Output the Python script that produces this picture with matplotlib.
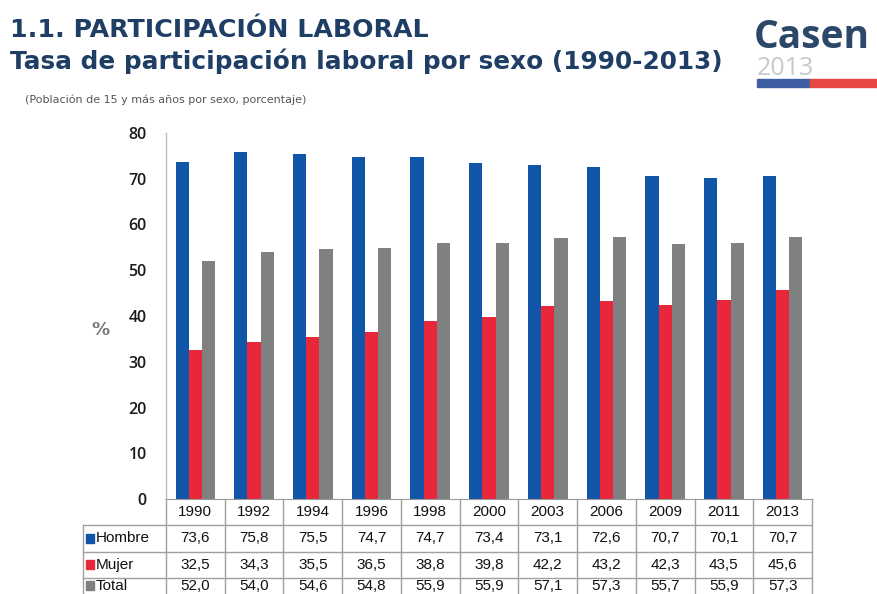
import matplotlib
matplotlib.use("Agg")
import matplotlib.pyplot as plt
import numpy as np
from matplotlib.lines import Line2D
from matplotlib.patches import Rectangle

years = ["1990", "1992", "1994", "1996", "1998", "2000", "2003", "2006", "2009", "2011", "2013"]
hombre = [73.6, 75.8, 75.5, 74.7, 74.7, 73.4, 73.1, 72.6, 70.7, 70.1, 70.7]
mujer = [32.5, 34.3, 35.5, 36.5, 38.8, 39.8, 42.2, 43.2, 42.3, 43.5, 45.6]
total = [52.0, 54.0, 54.6, 54.8, 55.9, 55.9, 57.1, 57.3, 55.7, 55.9, 57.3]
series_names = ["Hombre", "Mujer", "Total"]
series_colors = ["#1155A8", "#E8283A", "#808080"]
yticks = [0, 10, 20, 30, 40, 50, 60, 70, 80]

W, H = 877, 594
fig = plt.figure(figsize=(W / 100, H / 100), dpi=100)
fig.patch.set_facecolor("white")

def fx(px):
    return px / W

def fy(py):
    return 1 - py / H

ax_l, ax_r, ax_t, ax_b = 166, 812, 133, 499
ax = fig.add_axes([fx(ax_l), fy(ax_b), fx(ax_r - ax_l), (ax_b - ax_t) / H])
n = len(years)
x = np.arange(n)
bw = 0.225
for i, (vals, col) in enumerate(zip([hombre, mujer, total], series_colors)):
    ax.bar(x + (i - 1) * bw, vals, width=bw, color=col, zorder=2)
ax.set_xlim(-0.5, n - 0.5)
ax.set_ylim(0, 80)
ax.set_yticks(yticks)
ax.set_yticklabels([str(v) for v in yticks], fontsize=11.5, color="#1a1a1a",
                   family="Open Sans", fontweight="semibold")
ax.tick_params(axis="y", length=0, pad=14)
ax.tick_params(axis="x", length=0, labelbottom=False)
for s in ["top", "right"]:
    ax.spines[s].set_visible(False)
ax.spines["left"].set_color("#BBBBBB")
ax.spines["bottom"].set_color("#999999")
ax.spines["left"].set_linewidth(1.0)
ax.set_facecolor("white")

fig.text(fx(100), fy(330), "%", fontsize=13, color="#777777", fontweight="bold",
         ha="center", va="center")

# table
lc = "#A0A0A0"
col_w = (ax_r - ax_l) / n
row_edges = [499, 525, 552, 578, 605]
tf = fig.transFigure
def hline(x0, x1, y):
    fig.add_artist(Line2D([fx(x0), fx(x1)], [fy(y), fy(y)], color=lc, lw=1.0, transform=tf))
def vline(xp, y0, y1):
    fig.add_artist(Line2D([fx(xp), fx(xp)], [fy(y0), fy(y1)], color=lc, lw=1.0, transform=tf))

for y in row_edges[1:4]:
    hline(83, ax_r, y)
for j in range(n + 1):
    vline(ax_l + j * col_w, 499, 600)
vline(83, 525, 600)

tfont = "Liberation Sans"
for j, yr in enumerate(years):
    fig.text(fx(ax_l + (j + 0.5) * col_w), fy(512), yr, ha="center", va="center",
             fontsize=11, color="#111111", family=tfont)
for r, (name, vals, col) in enumerate(zip(series_names, [hombre, mujer, total], series_colors)):
    yc = (row_edges[r + 1] + row_edges[r + 2]) / 2
    if r == 2:
        yc = 585.5
    fig.add_artist(Rectangle((fx(86), fy(yc + 4)), 8 / W, 9 / H, color=col, transform=tf))
    fig.text(fx(96), fy(yc), name, ha="left", va="center", fontsize=11,
             color="#111111", family=tfont)
    for j, v in enumerate(vals):
        fig.text(fx(ax_l + (j + 0.5) * col_w), fy(yc), f"{v:.1f}".replace(".", ","),
                 ha="center", va="center", fontsize=11, color="#111111", family=tfont)

# titles
tc = "#1F3E66"
fig.text(fx(10), fy(37), "1.1. PARTICIPACIÓN LABORAL", fontsize=18.2, fontweight="bold",
         color=tc, ha="left", va="baseline", family="DejaVu Sans")
fig.text(fx(10), fy(69), "Tasa de participación laboral por sexo (1990-2013)", fontsize=17.8,
         fontweight="bold", color=tc, ha="left", va="baseline", family="DejaVu Sans")
fig.text(fx(25), fy(100), "(Población de 15 y más años por sexo, porcentaje)", fontsize=8,
         color="#555555", ha="left", va="center", family="DejaVu Sans")

# logo
fig.text(fx(754), fy(48), "Casen", fontsize=28, fontweight="bold", color="#2B4868",
         ha="left", va="baseline", family="Open Sans")
fig.text(fx(757), fy(75), "2013", fontsize=18, color="#C8C8C8", ha="left", va="baseline",
         family="Open Sans")
fig.add_artist(Rectangle((fx(757), fy(87)), 53 / W, 8 / H, color="#3E5FA3", transform=tf))
fig.add_artist(Rectangle((fx(810), fy(87)), 67 / W, 8 / H, color="#E84545", transform=tf))

fig.savefig("out.png", dpi=100)
